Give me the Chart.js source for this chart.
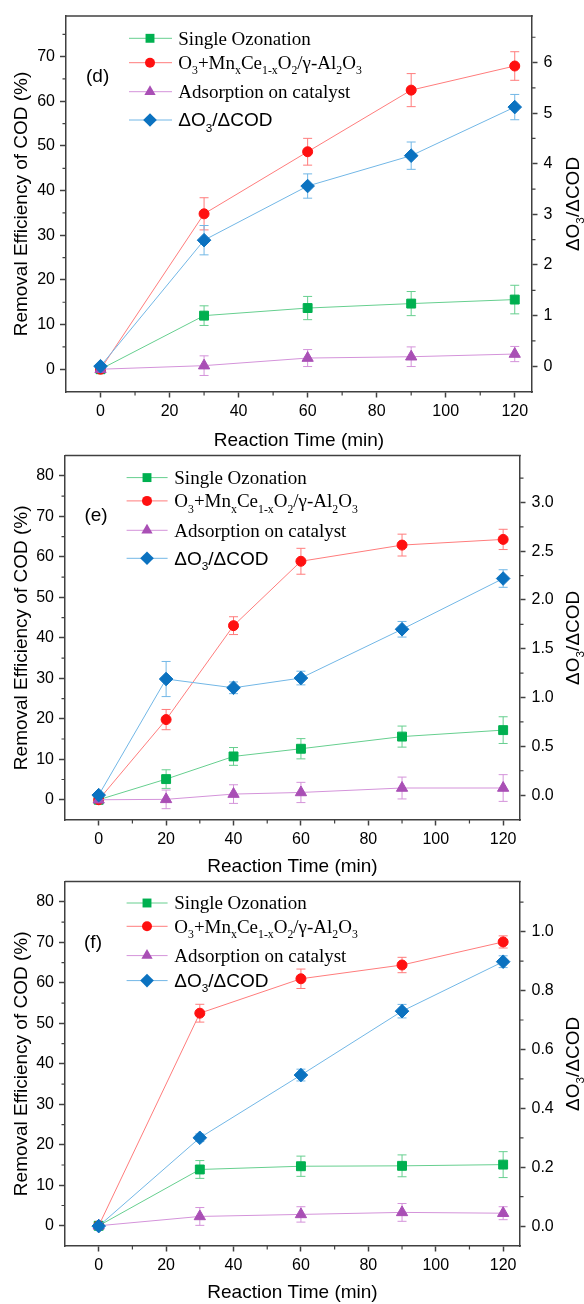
<!DOCTYPE html>
<html>
<head>
<meta charset="utf-8">
<script src="https://cdn.jsdelivr.net/npm/chart.js@4.4.0/dist/chart.umd.min.js"></script>
<style>
html, body { margin: 0; padding: 0; background: #fff; }
#wrap { position: relative; width: 584px; height: 1304px; overflow: hidden; background: #fff; }
canvas { position: absolute; left: 0; }
</style>
</head>
<body>
<div id="wrap">
  <canvas id="cd" width="584" height="456" style="top:0px"></canvas>
  <canvas id="ce" width="584" height="440" style="top:440px"></canvas>
  <canvas id="cf" width="584" height="438" style="top:866px"></canvas>
</div>
<script>
// ---- data ----
var seriesNames = ['Single Ozonation', 'O3+MnxCe1-xO2/γ-Al2O3', 'Adsorption on catalyst', 'ΔO3/ΔCOD'];

// panel (d)
var timeD = [0, 30, 60, 90, 120];
var singleD = [0, 12.0, 13.7, 14.7, 15.6];
var singleErrD = [0, 2.2, 2.6, 2.7, 3.2];
var catD = [0, 34.8, 48.7, 62.5, 67.9];
var catErrD = [0, 3.6, 3.0, 3.7, 3.2];
var adsD = [0, 0.8, 2.5, 2.8, 3.4];
var adsErrD = [0, 2.2, 1.9, 2.2, 1.7];
var ratioD = [0, 2.49, 3.56, 4.16, 5.12];
var ratioErrD = [0, 0.29, 0.24, 0.27, 0.25];

// panel (e)
var timeE = [0, 20, 40, 60, 90, 120];
var singleE = [0, 5.1, 10.7, 12.6, 15.6, 17.2];
var singleErrE = [0, 2.3, 2.2, 2.5, 2.6, 3.3];
var catE = [0, 19.8, 43.0, 58.9, 62.9, 64.3];
var catErrE = [0, 2.5, 2.2, 3.2, 2.7, 2.5];
var adsE = [0, 0.1, 1.4, 1.8, 2.9, 2.9];
var adsErrE = [0, 2.3, 2.3, 2.5, 2.7, 3.3];
var ratioE = [0, 1.19, 1.10, 1.20, 1.70, 2.22];
var ratioErrE = [0, 0.18, 0.06, 0.07, 0.08, 0.09];

// panel (f)
var timeF = [0, 30, 60, 90, 120];
var singleF = [0, 13.9, 14.7, 14.8, 15.1];
var singleErrF = [0, 2.2, 2.5, 2.7, 3.2];
var catF = [0, 52.5, 61.0, 64.4, 70.1];
var catErrF = [0, 2.2, 2.4, 1.9, 1.5];
var adsF = [0, 2.3, 2.8, 3.3, 3.1];
var adsErrF = [0, 2.2, 1.9, 2.2, 1.6];
var ratioF = [0, 0.30, 0.513, 0.73, 0.898];
var ratioErrF = [0, 0.013, 0.02, 0.023, 0.02];

// tick labels
var xTicks = [0, 20, 40, 60, 80, 100, 120];
var yTicksD = [0, 10, 20, 30, 40, 50, 60, 70];
var yTicksEF = [0, 10, 20, 30, 40, 50, 60, 70, 80];
var rTicksD = [0, 1, 2, 3, 4, 5, 6];
var rTicksE = [0, 0.5, 1.0, 1.5, 2.0, 2.5, 3.0];
var rTicksF = [0, 0.2, 0.4, 0.6, 0.8, 1.0];

// ---- styles ----
var SANS = 'Arial, "Liberation Sans", sans-serif';
var SERIF = '"Times New Roman", "Liberation Serif", serif';
var AXIS = '#404040';
var markerColors = ['#00B050', '#FF1010', '#A94FB5', '#0B72C0'];
var lineColors = ['#66CF8F', '#FF7C7C', '#D493DA', '#72B7E6'];
var pointStyles = ['rect', 'circle', 'triangle', 'rectRot'];
var pointRadii = [6.3, 5, 6.5, 6.8];

// legend text with subscripts
var legendParts = [
  [['Single Ozonation', 0]],
  [['O', 0], ['3', 1], ['+Mn', 0], ['x', 1], ['Ce', 0], ['1-x', 1], ['O', 0], ['2', 1], ['/γ-Al', 0], ['2', 1], ['O', 0], ['3', 1]],
  [['Adsorption on catalyst', 0]],
  [['ΔO', 0], ['3', 1], ['/ΔCOD', 0]]
];
var legendFonts = [SERIF, SERIF, SERIF, SANS];
var rightTitleParts = [['ΔO', 0], ['3', 1], ['/ΔCOD', 0]];

function drawRich(ctx, parts, x, y, family, size) {
  parts.forEach(function (p) {
    var s = p[1] ? size * 0.62 : size;
    ctx.font = s + 'px ' + family;
    ctx.fillText(p[0], x, p[1] ? y + size * 0.28 : y);
    x += ctx.measureText(p[0]).width;
  });
}
function richWidth(ctx, parts, family, size) {
  var w = 0;
  parts.forEach(function (p) {
    ctx.font = (p[1] ? size * 0.62 : size) + 'px ' + family;
    w += ctx.measureText(p[0]).width;
  });
  return w;
}

function drawMarker(ctx, style, r, x, y, color) {
  ctx.fillStyle = color;
  ctx.beginPath();
  if (style === 'rect') {
    var s = r * Math.SQRT1_2;
    ctx.rect(x - s, y - s, 2 * s, 2 * s);
  } else if (style === 'circle') {
    ctx.arc(x, y, r, 0, Math.PI * 2);
  } else if (style === 'triangle') {
    ctx.moveTo(x, y - r);
    ctx.lineTo(x + r * 0.866, y + r * 0.5);
    ctx.lineTo(x - r * 0.866, y + r * 0.5);
    ctx.closePath();
  } else {
    ctx.moveTo(x, y - r); ctx.lineTo(x + r, y); ctx.lineTo(x, y + r); ctx.lineTo(x - r, y);
    ctx.closePath();
  }
  ctx.fill();
}

function makeDeco(p) {
  return {
    id: 'deco',
    beforeDatasetsDraw: function (chart) {
      var ctx = chart.ctx;
      var xs = chart.scales.x;
      chart.data.datasets.forEach(function (ds) {
        var ys = chart.scales[ds.yAxisID];
        ctx.save();
        ctx.strokeStyle = ds.borderColor;
        ctx.lineWidth = 1;
        ds.data.forEach(function (pt, i) {
          var e = ds.errs[i];
          if (!e) return;
          var px = xs.getPixelForValue(pt.x);
          var y1 = ys.getPixelForValue(pt.y - e), y2 = ys.getPixelForValue(pt.y + e);
          ctx.beginPath();
          ctx.moveTo(px, y1); ctx.lineTo(px, y2);
          ctx.moveTo(px - 4.5, y1); ctx.lineTo(px + 4.5, y1);
          ctx.moveTo(px - 4.5, y2); ctx.lineTo(px + 4.5, y2);
          ctx.stroke();
        });
        ctx.restore();
      });
    },
    afterDraw: function (chart) {
      var ctx = chart.ctx;
      var a = chart.chartArea;
      var xs = chart.scales.x, yl = chart.scales.y, yr = chart.scales.y1;
      ctx.save();
      // top frame
      ctx.strokeStyle = AXIS;
      ctx.lineWidth = 1.5;
      ctx.beginPath();
      ctx.moveTo(a.left, a.top); ctx.lineTo(a.right + 0.75, a.top);
      ctx.stroke();
      // minor ticks
      ctx.lineWidth = 1.2;
      ctx.beginPath();
      function minors(sc, step, majors, fn) {
        var v = Math.ceil(sc.min / step - 1e-9) * step;
        for (; v <= sc.max + 1e-9; v += step) {
          var isMajor = majors.some(function (m) { return Math.abs(m - v) < step / 10; });
          if (isMajor) continue;
          var px = sc.getPixelForValue(v);
          fn(px);
        }
      }
      minors(xs, 10, xTicks, function (px) {
        if (px < a.left + 1 || px > a.right - 1) return;
        ctx.moveTo(px, a.bottom); ctx.lineTo(px, a.bottom + 3.5);
      });
      minors(yl, 5, p.yTicks, function (py) {
        if (py < a.top + 1 || py > a.bottom - 1) return;
        ctx.moveTo(a.left, py); ctx.lineTo(a.left - 3.5, py);
      });
      minors(yr, p.rMinor, p.rTicks, function (py) {
        if (py < a.top + 1 || py > a.bottom - 1) return;
        ctx.moveTo(a.right, py); ctx.lineTo(a.right + 3.5, py);
      });
      ctx.stroke();

      // panel letter
      ctx.fillStyle = '#000';
      ctx.font = '19px ' + SANS;
      ctx.textAlign = 'center';
      ctx.textBaseline = 'middle';
      ctx.fillText(p.letter, a.left + p.letterPos[0], a.top + p.letterPos[1]);

      // legend
      ctx.textAlign = 'left';
      ctx.textBaseline = 'alphabetic';
      for (var i = 0; i < 4; i++) {
        var ry = a.top + p.legRows[i];
        ctx.strokeStyle = lineColors[i];
        ctx.lineWidth = 1;
        ctx.beginPath();
        ctx.moveTo(a.left + p.legLine[0], ry); ctx.lineTo(a.left + p.legLine[1], ry);
        ctx.stroke();
        drawMarker(ctx, pointStyles[i], pointRadii[i], a.left + p.legMarker, ry, markerColors[i]);
        ctx.fillStyle = '#000';
        var sz = legendFonts[i] === SANS ? 19 : 19;
        drawRich(ctx, legendParts[i], a.left + p.legText, ry + sz * 0.34, legendFonts[i], sz);
      }

      // right axis title, reading bottom to top
      ctx.save();
      ctx.translate(572, (a.top + a.bottom) / 2);
      ctx.rotate(-Math.PI / 2);
      var w = richWidth(ctx, rightTitleParts, SANS, 19);
      ctx.fillStyle = '#000';
      drawRich(ctx, rightTitleParts, -w / 2, 19 * 0.36, SANS, 19);
      ctx.restore();
      ctx.restore();
    }
  };
}

function buildDatasets(time, vals, errs) {
  return vals.map(function (v, k) {
    return {
      label: seriesNames[k],
      data: time.map(function (t, i) { return { x: t, y: v[i] }; }),
      errs: errs[k],
      yAxisID: k === 3 ? 'y1' : 'y',
      order: [3, 2, 1, 0][k],
      borderColor: lineColors[k],
      backgroundColor: markerColors[k],
      pointBackgroundColor: markerColors[k],
      pointBorderColor: markerColors[k],
      pointBorderWidth: 1,
      pointStyle: pointStyles[k],
      pointRadius: pointRadii[k],
      borderWidth: 1,
      tension: 0,
      fill: false
    };
  });
}

function makePanel(id, p) {
  var tickFont = { family: SANS, size: 16 };
  var titleFont = { family: SANS, size: 19 };
  return new Chart(document.getElementById(id), {
    type: 'line',
    data: { datasets: buildDatasets(p.time, p.vals, p.errs) },
    options: {
      responsive: false,
      animation: false,
      devicePixelRatio: 1,
      layout: { padding: { top: p.padTop, left: 0, right: 0, bottom: 0 } },
      plugins: { legend: { display: false }, tooltip: { enabled: false } },
      scales: {
        x: {
          type: 'linear', min: -10, max: 125,
          afterBuildTicks: function (ax) { ax.ticks = xTicks.map(function (v) { return { value: v }; }); },
          afterFit: function (s) { s.height = p.xH; },
          ticks: { font: tickFont, color: '#000', padding: 4, maxRotation: 0, autoSkip: false },
          grid: { drawOnChartArea: false, tickLength: 5.5, tickColor: AXIS, tickWidth: 1.5 },
          border: { color: AXIS, width: 1.5 },
          title: { display: true, text: 'Reaction Time (min)', font: titleFont, color: '#000', padding: { top: 0, bottom: p.xTitlePad } }
        },
        y: {
          position: 'left', min: p.yMin, max: p.yMax,
          afterBuildTicks: function (ax) { ax.ticks = p.yTicks.map(function (v) { return { value: v }; }); },
          afterFit: function (s) { s.width = p.lw; },
          ticks: { font: tickFont, color: '#000', padding: 5 },
          grid: { drawOnChartArea: false, tickLength: 6, tickColor: AXIS, tickWidth: 1.5 },
          border: { color: AXIS, width: 1.5 },
          title: { display: true, text: 'Removal Efficiency of COD (%)', font: titleFont, color: '#000', padding: { top: 10.6, bottom: 0 } }
        },
        y1: {
          position: 'right', min: p.rMin, max: p.rMax,
          afterBuildTicks: function (ax) { ax.ticks = p.rTicks.map(function (v) { return { value: v }; }); },
          afterFit: function (s) { s.width = p.rw; },
          ticks: { font: tickFont, color: '#000', padding: 6,
            callback: function (v) { return v.toFixed(p.rDec); } },
          grid: { drawOnChartArea: false, tickLength: 5.5, tickColor: AXIS, tickWidth: 1.5 },
          border: { color: AXIS, width: 1.5 }
        }
      }
    },
    plugins: [makeDeco(p)]
  });
}

makePanel('cd', {
  time: timeD,
  vals: [singleD, catD, adsD, ratioD],
  errs: [singleErrD, catErrD, adsErrD, ratioErrD],
  padTop: 16, xH: 64, xTitlePad: 3.6, lw: 66, rw: 52,
  yMin: -5.1, yMax: 79.1, yTicks: yTicksD,
  rMin: -0.51, rMax: 6.92, rTicks: rTicksD, rMinor: 0.5, rDec: 0,
  letter: '(d)', letterPos: [31.6, 61],
  legRows: [22.3, 46.7, 75.7, 104], legLine: [63, 106], legMarker: 84, legText: 112.3
});

makePanel('ce', {
  time: timeE,
  vals: [singleE, catE, adsE, ratioE],
  errs: [singleErrE, catErrE, adsErrE, ratioErrE],
  padTop: 13, xH: 60, xTitlePad: 1.9, lw: 65, rw: 64,
  yMin: -5, yMax: 85, yTicks: yTicksEF,
  rMin: -0.255, rMax: 3.48, rTicks: rTicksE, rMinor: 0.25, rDec: 1,
  letter: '(e)', letterPos: [31, 59.7],
  legRows: [22, 45.3, 74.7, 102.7], legLine: [61.6, 102.6], legMarker: 82, legText: 109.3
});

makePanel('cf', {
  time: timeF,
  vals: [singleF, catF, adsF, ratioF],
  errs: [singleErrF, catErrF, adsErrF, ratioErrF],
  padTop: 13.3, xH: 58, xTitlePad: 0, lw: 65, rw: 64,
  yMin: -5, yMax: 85, yTicks: yTicksEF,
  rMin: -0.0675, rMax: 1.17, rTicks: rTicksF, rMinor: 0.1, rDec: 1,
  letter: '(f)', letterPos: [28, 61],
  legRows: [21.4, 44.7, 74, 99], legLine: [61.6, 102.6], legMarker: 82, legText: 109.3
});
</script>
</body>
</html>
